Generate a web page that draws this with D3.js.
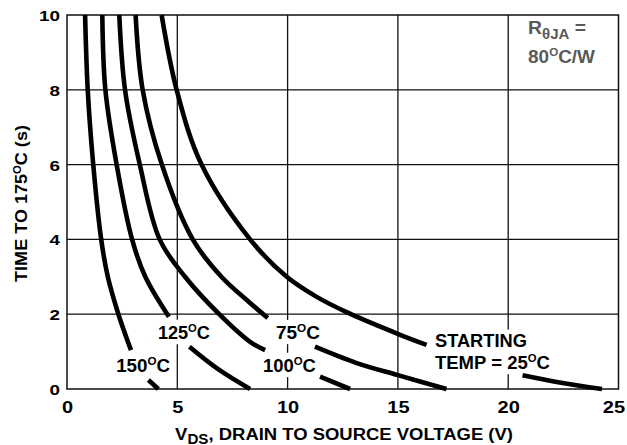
<!DOCTYPE html>
<html><head><meta charset="utf-8">
<script src="https://cdn.jsdelivr.net/npm/d3@7"></script>
<style>
body{margin:0;background:#fff;}
svg text{font-family:"Liberation Sans",Arial,Helvetica,sans-serif;font-weight:bold;fill:#000;}
</style></head><body>
<svg id="c" width="627" height="445"></svg>
<script>
// ---- data ----
const xTicks = [0, 5, 10, 15, 20, 25];
const yTicks = [0, 2, 4, 6, 8, 10];
const startTemps = ["150", "125", "100", "75", "25"];
// [V_DS (V), time to 175°C (s)]; null = gap where a label sits
const curve150 = [[0.82,10],[0.94,8],[1.19,6],[1.55,4],[1.85,3],[2.33,2],[2.9,1.04],null,[3.69,0.24],[4.14,0]];
const curve125 = [[1.6,10],[1.74,8],[2.25,6],[2.95,4],[3.55,3],[4.62,1.93],null,[5.55,1.13],[6.85,0.53],[8.3,0]];
const curve100 = [[2.37,10],[2.63,8],[3.3,6],[4.2,4],[5.35,3],[6.9,2],[8.3,1.26],[8.98,1.04],null,[11.47,0.33],[12.83,0]];
const curve75  = [[3.11,10],[3.43,8],[4.3,6],[5.7,4],[7.0,3],[8.3,2.3],[9.1,1.9],null,[11.24,1.13],[13.1,0.7],[15,0.37],[17.2,0]];
const curve25  = [[4.29,10],[4.97,8],[6.1,6],[8.3,4],[9.96,3],[11.3,2.47],[12.8,2.02],[15.1,1.45],[16.3,1.18],null,[20.65,0.37],[22.4,0.17],[24.25,0]];
const curves = [curve150, curve125, curve100, curve75, curve25];

// ---- layout ----
const svg = d3.select("#c");
const x = d3.scaleLinear().domain([0, 25]).range([67, 618.5]);
const y = d3.scaleLinear().domain([0, 10]).range([389, 15]);

const gridG = svg.append("g");
const bgG = svg.append("g");
const curveG = svg.append("g");
const labelG = svg.append("g");
const axisG = svg.append("g");

// grid + frame
gridG.selectAll("line.vx").data(xTicks.slice(1, -1)).join("line")
  .attr("x1", d => x(d)).attr("x2", d => x(d)).attr("y1", y(0)).attr("y2", y(10))
  .attr("stroke", "#111").attr("stroke-width", 1.3);
gridG.selectAll("line.hy").data(yTicks.slice(1, -1)).join("line")
  .attr("y1", d => y(d)).attr("y2", d => y(d)).attr("x1", x(0)).attr("x2", x(25))
  .attr("stroke", "#111").attr("stroke-width", 1.3);
gridG.append("rect").attr("x", x(0)).attr("y", y(10))
  .attr("width", x(25) - x(0)).attr("height", y(0) - y(10))
  .attr("fill", "none").attr("stroke", "#111").attr("stroke-width", 1.5);

// curves
const line = d3.line().defined(d => d !== null)
  .x(d => x(d[0])).y(d => y(d[1])).curve(d3.curveCatmullRom.alpha(0.5));
curveG.selectAll("path").data(curves).join("path")
  .attr("d", line).attr("fill", "none").attr("stroke", "#000")
  .attr("stroke-width", 4.6).attr("stroke-linecap", "butt");

// helper: stretch a text horizontally to a target width, about its anchor
function fit(sel, target, ax, ay) {
  const w = sel.node().getBBox().width;
  const s = target / w;
  sel.attr("transform", `translate(${ax},${ay}) scale(${s},1)`);
}
function tempLabel(str, size) {
  const t = labelG.append("text").attr("x", 0).attr("y", 0).style("font-size", size + "px");
  t.append("tspan").text(str);
  t.append("tspan").text("O").style("font-size", (size * 0.62) + "px").attr("dy", -size * 0.42);
  t.append("tspan").text("C").attr("dy", size * 0.42);
  return t;
}
const boxes = [];
function place(t, anchor, vx, ty, width) {
  t.attr("text-anchor", anchor);
  fit(t, width, x(vx), y(ty));
  boxes.push(t);
}
// curve labels
place(tempLabel(startTemps[0], 18), "middle", 3.45, 0.45, 54);
place(tempLabel(startTemps[1], 18), "middle", 5.3, 1.33, 52);
place(tempLabel(startTemps[3], 18), "middle", 10.47, 1.33, 44);
place(tempLabel(startTemps[2], 18), "middle", 10.08, 0.45, 53);
const st = labelG.append("text").style("font-size", "18px").text("STARTING");
place(st, "start", 16.68, 1.11, 92);
const tp = labelG.append("text").style("font-size", "18px");
tp.append("tspan").text("TEMP = " + startTemps[4]);
tp.append("tspan").text("O").style("font-size", "11px").attr("dy", -7.5);
tp.append("tspan").text("C").attr("dy", 7.5);
place(tp, "start", 16.68, 0.53, 115);

// white backgrounds behind labels (break the grid)
boxes.forEach(t => {
  const b = t.node().getBoundingClientRect();
  bgG.append("rect").attr("x", b.x - 3).attr("y", b.y - 2)
    .attr("width", b.width + 6).attr("height", b.height + 3).attr("fill", "#fff");
});

// thermal resistance note
const r1 = labelG.append("text").style("font-size", "18px").style("fill", "#5a5a5a");
r1.append("tspan").text("R");
r1.append("tspan").text("θJA").style("font-size", "14px").attr("dy", 5);
r1.append("tspan").text(" =").attr("dy", -5);
fit(r1, 58, x(20.9), y(9.5));
r1.attr("text-anchor", "start");
const r2 = labelG.append("text").style("font-size", "18px").style("fill", "#5a5a5a");
r2.append("tspan").text("80");
r2.append("tspan").text("O").style("font-size", "11px").attr("dy", -7.5);
r2.append("tspan").text("C/W").attr("dy", 7.5);
fit(r2, 67, x(20.9), y(8.71));

// axes (tick labels)
const xa = axisG.append("g").attr("transform", `translate(0,${y(0)})`)
  .call(d3.axisBottom(x).tickValues(xTicks).tickSize(0).tickFormat(d3.format("d")));
xa.select(".domain").remove();
xa.selectAll("text").attr("dy", null).attr("y", 0)
  .style("font-size", "16px")
  .attr("transform", d => `translate(${d === 25 ? -5 : 0},24) scale(1.25,1)`);
const ya = axisG.append("g").attr("transform", `translate(${x(0)},0)`)
  .call(d3.axisLeft(y).tickValues(yTicks).tickSize(0).tickFormat(d3.format("d")));
ya.select(".domain").remove();
ya.selectAll("text").attr("dy", null).attr("x", 0).attr("y", 0)
  .style("font-size", "14.5px")
  .attr("transform", "translate(-7,5.5) scale(1.3,1)");
axisG.selectAll("g.tick text").attr("fill", "#000").style("font-family", "Liberation Sans, Arial, sans-serif").style("font-weight", "bold");

// axis titles
const xt = axisG.append("text").attr("text-anchor", "middle").style("font-size", "17px");
xt.append("tspan").text("V");
xt.append("tspan").text("DS").style("font-size", "14px").attr("dy", 4);
xt.append("tspan").text(", DRAIN TO SOURCE VOLTAGE (V)").attr("dy", -4);
fit(xt, 338, 344, 439.5);

const yt = axisG.append("text").attr("text-anchor", "middle").style("font-size", "16px");
yt.append("tspan").text("TIME TO 175");
yt.append("tspan").text("O").style("font-size", "10px").attr("dy", -6.5);
yt.append("tspan").text("C (s)").attr("dy", 6.5);
{
  const w = yt.node().getBBox().width;
  yt.attr("transform", `translate(27,203.5) rotate(-90) scale(${157 / w},1)`);
}
</script>
</body></html>
